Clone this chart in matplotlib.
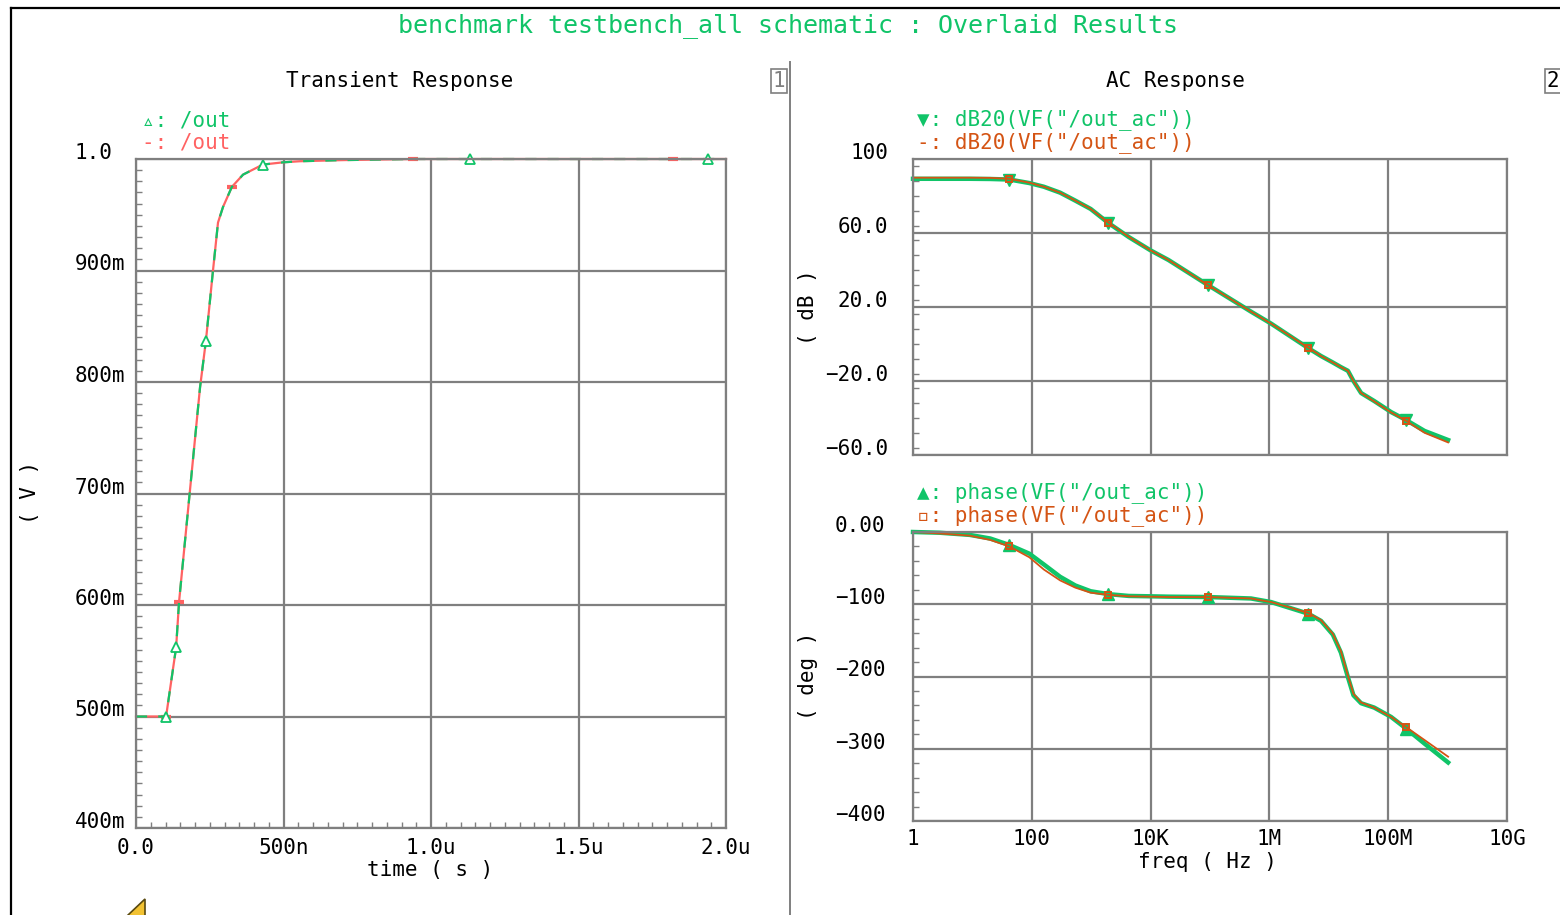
import matplotlib
matplotlib.use('Agg')
import matplotlib.pyplot as plt
import matplotlib.ticker as ticker
from matplotlib.lines import Line2D
from matplotlib.patches import Polygon

# transient response (time in ns, volts)
t_ns = [0, 102, 136, 146, 183, 217, 237, 261, 278, 295, 325, 363, 430, 498, 556,
        700, 939, 1132, 1500, 1820, 1939, 2000]
v_out = [0.500, 0.500, 0.562, 0.603, 0.703, 0.795, 0.837, 0.900, 0.943, 0.957, 0.975,
         0.986, 0.995, 0.997, 0.998, 0.999, 1.0, 1.0, 1.0, 1.0, 1.0, 1.0]
tran_tri_idx = [1, 2, 6, 12, 17, 20]
tran_dash_idx = [1, 3, 10, 16, 19]

tran_yticks = [0.4, 0.5, 0.6, 0.7, 0.8, 0.9, 1.0]
tran_ylabels = ['400m', '500m', '600m', '700m', '800m', '900m', '1.0']
tran_xticks = [0, 500, 1000, 1500, 2000]
tran_xlabels = ['0.0', '500n', '1.0u', '1.5u', '2.0u']

# AC response
freq = [1, 2.8, 9, 20, 42, 91, 160, 300, 540, 980, 1950, 4300, 1.0e4, 2.0e4, 9.1e4,
        4.9e5, 1.07e6, 4.5e6, 7.4e6, 1.17e7, 1.6e7, 2.1e7, 2.6e7, 3.5e7, 5.8e7,
        1.12e8, 2.0e8, 4.1e8, 1.02e9]
db_green = [89.3, 89.3, 89.3, 89.2, 88.9, 87.0, 85.0, 81.8, 77.5, 73.0, 65.4, 57.8,
            50.6, 45.4, 32.0, 17.5, 11.0, -2.2, -6.5, -10.0, -12.5, -14.5, -20.0,
            -26.5, -30.8, -36.8, -41.1, -47.0, -51.9]
db_orange = [89.9, 89.9, 89.9, 89.8, 89.3, 87.2, 85.0, 81.8, 77.5, 73.0, 65.6, 57.9,
             50.6, 45.4, 32.0, 17.5, 11.0, -2.0, -6.5, -10.0, -12.5, -14.5, -20.0,
             -26.5, -31.0, -37.0, -41.5, -48.0, -53.2]
ph_green = [0, -1, -4, -9, -18, -30, -45, -62, -74, -82, -86, -88.5, -89, -89.5, -90,
            -92, -97, -113, -123, -142, -167, -201, -226, -237, -243, -256, -272,
            -293, -319]
ph_orange = [0, -2, -5, -11, -20, -35, -52, -67, -77, -84, -87, -89, -89.5, -90, -90,
             -92, -97, -112, -122, -141, -165, -199, -224, -236, -243, -256, -270,
             -288, -311]
ac_mark_idx = [4, 10, 14, 17, 26]

freq_ticks = [1, 1e2, 1e4, 1e6, 1e8, 1e10]
freq_labels = ['1', '100', '10K', '1M', '100M', '10G']
db_ticks = [-60, -20, 20, 60, 100]
db_labels = ['\u221260.0', '\u221220.0', '20.0', '60.0', '100']
ph_ticks = [-400, -300, -200, -100, 0]
ph_labels = ['\u2212400', '\u2212300', '\u2212200', '\u2212100', '0.00']

GREEN = '#10c468'
ORANGE = '#d45414'
RED = '#ff6262'
GRID = '#7f7f7f'
FONT = ['DejaVu Sans Mono', 'DejaVu Sans']

W, H = 1560, 915
plt.rcParams['font.family'] = FONT
fig = plt.figure(figsize=(W / 100, H / 100), dpi=100, facecolor='white')


def px(x, y):
    return x / W, 1 - y / H


def ftext(x, y, s, **kw):
    kw.setdefault('fontsize', 15)
    kw.setdefault('va', 'center')
    fig.text(*px(x, y), s, **kw)


def style(ax):
    for s in ax.spines.values():
        s.set_color(GRID)
        s.set_linewidth(1.6)
    ax.grid(True, which='major', color=GRID, linewidth=1.6)
    ax.set_axisbelow(True)
    ax.tick_params(which='major', length=0, labelsize=15, colors='black')
    ax.tick_params(which='minor', direction='in', length=4, width=1, color=GRID)


# ---- transient ----
ax1 = fig.add_axes([136 / W, 1 - 828 / H, 590 / W, 669 / H])
style(ax1)
ax1.set_xlim(0, 2000)
ax1.set_ylim(0.4, 1.0)
ax1.set_xticks(tran_xticks, tran_xlabels)
ax1.set_yticks(tran_yticks, tran_ylabels)
ax1.xaxis.set_minor_locator(ticker.MultipleLocator(50))
ax1.yaxis.set_minor_locator(ticker.MultipleLocator(0.01))
ax1.tick_params(axis='y', pad=44)
ax1.tick_params(axis='x', pad=7)
for lbl in ax1.get_yticklabels():
    lbl.set_ha('left')
    lbl.set_va('baseline')
ax1.plot(t_ns, v_out, color=RED, lw=1.6, marker='_', ms=7, mew=3,
         markevery=tran_dash_idx, clip_on=False)
ax1.plot(t_ns, v_out, color=GREEN, lw=1.6, ls=(0, (5, 5)), marker='^', ms=7,
         mfc='white', mew=1.3, markevery=tran_tri_idx, clip_on=False)

# ---- AC magnitude ----
ax2 = fig.add_axes([913 / W, 1 - 455 / H, 594 / W, 296 / H])
style(ax2)
ax2.set_xscale('log')
ax2.set_xlim(1, 1e10)
ax2.set_ylim(-60, 100)
ax2.set_xticks(freq_ticks, [''] * len(freq_ticks))
ax2.xaxis.set_minor_locator(ticker.NullLocator())
ax2.set_yticks(db_ticks, db_labels)
ax2.yaxis.set_minor_locator(ticker.MultipleLocator(8))
ax2.tick_params(axis='y', pad=18)
for lbl in ax2.get_yticklabels():
    lbl.set_va('baseline')
ax2.plot(freq, db_green, color=GREEN, lw=3.2, marker='v', ms=9,
         markevery=ac_mark_idx, clip_on=False)
ax2.plot(freq, db_orange, color=ORANGE, lw=1.3, marker='s', ms=5, mfc='none',
         mew=1.4, markevery=ac_mark_idx, clip_on=False)

# ---- AC phase ----
ax3 = fig.add_axes([913 / W, 1 - 821 / H, 594 / W, 289 / H])
style(ax3)
ax3.set_xscale('log')
ax3.set_xlim(1, 1e10)
ax3.set_ylim(-400, 0)
ax3.set_xticks(freq_ticks, freq_labels)
ax3.xaxis.set_minor_locator(ticker.NullLocator())
ax3.set_yticks(ph_ticks, ph_labels)
ax3.yaxis.set_minor_locator(ticker.MultipleLocator(20))
ax3.tick_params(axis='y', pad=20)
ax3.tick_params(axis='x', pad=6)
for lbl in ax3.get_yticklabels():
    lbl.set_va('baseline')
ax3.plot(freq, ph_green, color=GREEN, lw=3.2, marker='^', ms=9,
         markevery=ac_mark_idx, clip_on=False)
ax3.plot(freq, ph_orange, color=ORANGE, lw=1.3, marker='s', ms=5, mfc='none',
         mew=1.4, markevery=ac_mark_idx, clip_on=False)

# ---- texts ----
ftext(788, 26, 'benchmark testbench_all schematic : Overlaid Results',
      fontsize=18, color=GREEN, ha='center')
ftext(400, 81, 'Transient Response', ha='center')
ftext(1175, 81, 'AC Response', ha='center')

ftext(142, 120, '\u25b5: /out', color=GREEN)
ftext(142, 143, '-: /out', color=RED)
ftext(917, 120, '\u25bc: dB20(VF("/out_ac"))', color=GREEN)
ftext(917, 143, '-: dB20(VF("/out_ac"))', color=ORANGE)
ftext(917, 493, '\u25b2: phase(VF("/out_ac"))', color=GREEN)
ftext(917, 516, '\u25ab: phase(VF("/out_ac"))', color=ORANGE)

ftext(30, 492, '( V )', rotation=90, ha='center')
ftext(808, 307, '( dB )', rotation=90, ha='center')
ftext(808, 676, '( deg )', rotation=90, ha='center')
ftext(430, 870, 'time ( s )', ha='center')
ftext(1207, 862, 'freq ( Hz )', ha='center')

box = dict(boxstyle='square,pad=0.1', fc='white', ec=GRID, lw=1.2)
ftext(779, 81, '1', ha='center', color=GRID, bbox=box)
ftext(1553, 81, '2', ha='center', color='black', bbox=box)

# frame and divider
fig.add_artist(Line2D([11 / W, 11 / W], [0, 1 - 8 / H], color='black', lw=1.6))
fig.add_artist(Line2D([11 / W, 1], [1 - 8 / H, 1 - 8 / H], color='black', lw=1.6))
fig.add_artist(Line2D([790 / W, 790 / W], [0, 1 - 62 / H], color=GRID, lw=1.4))

# pointer icon at bottom left
fig.add_artist(Polygon([px(145, 899), px(145, 916), px(127, 916)], closed=True,
                       fc='#f2c232', ec='#5a4a10', lw=1.2, transform=fig.transFigure))

fig.savefig('out.png', dpi=100, facecolor='white')
